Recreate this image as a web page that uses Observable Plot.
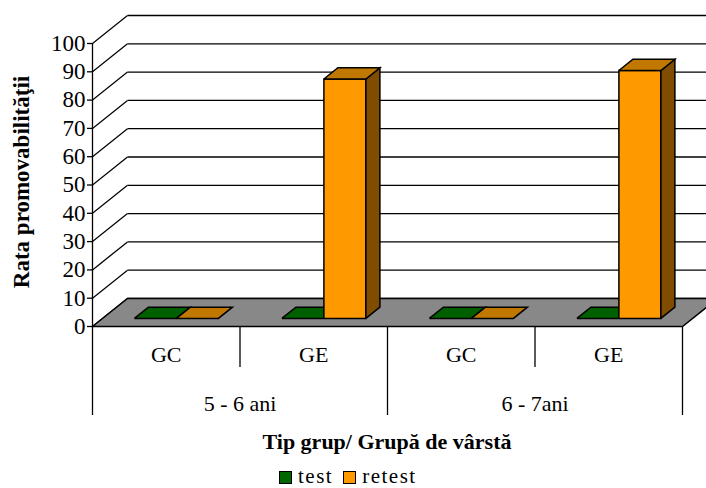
<!DOCTYPE html>
<html>
<head>
<meta charset="utf-8">
<script src="https://cdn.jsdelivr.net/npm/d3@7"></script>
<script src="https://cdn.jsdelivr.net/npm/@observablehq/plot@0.6"></script>
<style>
  html, body { margin: 0; padding: 0; background: white; overflow: hidden; }
  #wrap { position: relative; width: 706px; height: 488px; font-family: "Liberation Serif", "Times New Roman", serif; }
  #chart svg text { font-family: "Liberation Serif", "Times New Roman", serif; }
  #xtitle { position: absolute; left: 0; width: 774px; top: 429px; text-align: center; font-weight: bold; font-size: 22px; }
  #legend { position: absolute; left: 279px; top: 464px; font-size: 21px; line-height: 24px; letter-spacing: 1.5px; display: flex; align-items: center; white-space: nowrap; }
  .sw { display: inline-block; width: 11px; height: 11px; border: 1px solid black; margin-right: 6px; margin-top: 3px; }
</style>
</head>
<body>
<div id="wrap">
  <div id="chart"></div>
  <div id="xtitle">Tip grup/ Grupă de vârstă</div>
  <div id="legend"></div>
</div>
<script>
// ---- data ----
const groups = ["5 - 6 ani", "6 - 7ani"];
const types = ["GC", "GE"];
const series = ["test", "retest"];
const testValues = [0, 0, 0, 0];
const retestValues = [0, 84.6, 0, 87.6];
const yTicks = [0, 10, 20, 30, 40, 50, 60, 70, 80, 90, 100];
const seriesColors = ["#006600", "#FF9900"];
const topColors = ["#006000", "#C07800"];
const sideColors = ["#003300", "#804C00"];

// ---- layout constants ----
const W = 706, H = 425;
const mL = 92, mR = 24, mT = 43, mB = H - 326;
const pxX = (W - mL - mR) / 4;          // px per category
const pxY = (H - mT - mB) / 100;        // px per value unit
const DX = 35 / pxX, DY = 28 / pxY;     // full depth in data units
const f1 = 0.29, f2 = 0.69;             // bar depth span
const barW = 42 / pxX;
const toV = px => -(px) / pxY;          // px below floor -> value

const cats = [];
groups.forEach((g, gi) => types.forEach((t, ti) => cats.push({g, t, i: gi * 2 + ti})));

// polygons
const rows = [];
let pid = 0;
function poly(pts, color) {
  const id = pid++;
  [...pts, pts[0]].forEach(([x, y]) => rows.push({id, x, y, color}));
}
// floor
poly([[0, 0], [4, 0], [4 + DX, DY], [DX, DY]], "#888888");

const values = [testValues, retestValues];
cats.forEach(c => {
  const cx = c.i + 0.5 + f1 * DX;
  const base = f1 * DY;
  const ddx = (f2 - f1) * DX, ddy = (f2 - f1) * DY;
  series.forEach((s, si) => {
    const v = values[si][c.i];
    const x1 = si === 0 ? cx - barW : cx;
    const x2 = x1 + barW;
    const top = base + v;
    if (v > 0) {
      poly([[x1, base], [x2, base], [x2, top], [x1, top]], seriesColors[si]);
      poly([[x2, base], [x2 + ddx, base + ddy], [x2 + ddx, top + ddy], [x2, top]], sideColors[si]);
    }
    poly([[x1, top], [x2, top], [x2 + ddx, top + ddy], [x1 + ddx, top + ddy]], topColors[si]);
  });
});

const gridBack = yTicks.map(v => ({x1: DX, x2: 4.4, y: v + DY}));
const gridSide = yTicks.map(v => ({x1: 0, y1: v, x2: DX, y2: v + DY}));

const typeSeps = [1, 3];
const groupSeps = [0, 2, 4];
const serif = "'Liberation Serif', 'Times New Roman', serif";

const chart = Plot.plot({
  width: W, height: H,
  marginLeft: mL, marginRight: mR, marginTop: mT, marginBottom: mB,
  style: {fontFamily: serif, fontSize: "22px", color: "black", background: "white", overflow: "hidden"},
  x: {domain: [0, 4], axis: null},
  y: {domain: [0, 100], axis: null},
  color: {type: "identity"},
  marks: [
    Plot.link(gridBack, {x1: "x1", x2: "x2", y1: "y", y2: "y", stroke: "black", strokeWidth: 1.3}),
    Plot.link(gridSide, {x1: "x1", y1: "y1", x2: "x2", y2: "y2", stroke: "black", strokeWidth: 1.3}),
    Plot.line(rows, {x: "x", y: "y", z: "id", fill: "color", stroke: "black", strokeWidth: 1.5, strokeLinejoin: "miter", strokeLinecap: "butt", strokeMiterlimit: 4}),
    Plot.ruleX([0], {y1: 0, y2: 100, stroke: "black", strokeWidth: 1.3}),
    Plot.axisY({ticks: yTicks, tickSize: 5, tickPadding: 2, fontSize: 23, fontFamily: serif, tickFormat: d => String(d), label: null, stroke: "black", strokeWidth: 1.3}),
    Plot.ruleX(typeSeps, {y1: 0, y2: toV(41), stroke: "black", strokeWidth: 1.3}),
    Plot.ruleX(groupSeps, {y1: 0, y2: toV(89), stroke: "black", strokeWidth: 1.3}),
    Plot.text(cats, {x: d => d.i + 0.5, y: toV(28), text: "t", fontSize: 22, fontFamily: serif}),
    Plot.text(groups, {x: (d, i) => i * 2 + 1, y: toV(77), text: d => d, fontSize: 22, fontFamily: serif}),
    Plot.text(["Rata promovabilităţii"], {frameAnchor: "left", textAnchor: "middle", dx: -71, dy: -3, rotate: -90, fontWeight: "bold", fontSize: 23, fontFamily: serif})
  ]
});
document.getElementById("chart").appendChild(chart);

const legend = document.getElementById("legend");
series.forEach((s, i) => {
  const sw = document.createElement("span");
  sw.className = "sw";
  sw.style.background = seriesColors[i];
  const t = document.createElement("span");
  t.textContent = s;
  t.style.marginRight = i === 0 ? "10px" : "0";
  legend.appendChild(sw);
  legend.appendChild(t);
});
</script>
</body>
</html>
